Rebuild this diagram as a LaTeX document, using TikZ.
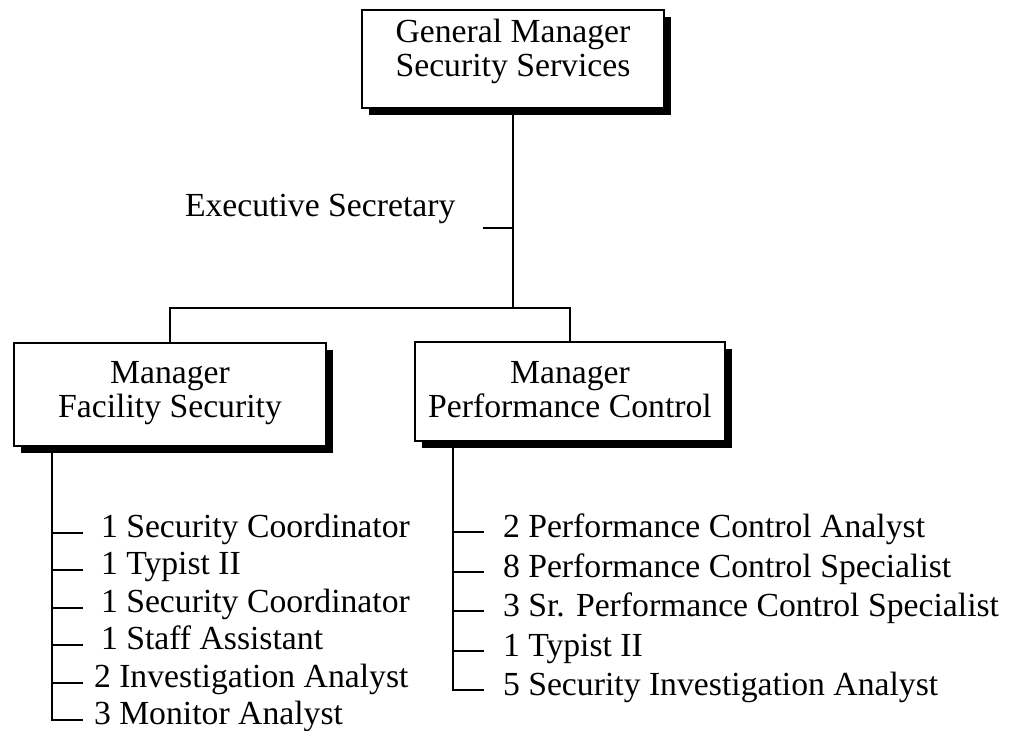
\documentclass[tikz,border=0pt]{standalone}
\usepackage{fontspec}
\setmainfont{Liberation Serif}
\usetikzlibrary{shadows}
\begin{document}
\begin{tikzpicture}[x=1pt,y=-1pt,
  every node/.style={inner sep=0pt, outer sep=0pt},
  txt/.style={font=\fontsize{33.7pt}{34pt}\selectfont},
  box/.style={draw, line width=2.6pt, fill=white,
    general shadow={fill=black, shadow xshift=7pt, shadow yshift=-7pt}},
  boxtext/.style={txt, align=center},
  conn/.style={line width=2.6pt},
  item/.style={txt, anchor=base west}]
\path[fill=white] (0,0) rectangle (1010,731);
\useasboundingbox (0,0) rectangle (1010,731);

% boxes
\node[box, minimum width=302pt, minimum height=98pt] (gm) at (513,59) {};
\node[boxtext] (gmt) at (513,51.5) {General Manager\\Security Services};
\node[box, minimum width=312pt, minimum height=103pt] (fs) at (170,394.5) {};
\node[boxtext] (fst) at (170,392.6) {Manager\\Facility Security};
\node[box, minimum width=310pt, minimum height=99pt] (pc) at (570,391.5) {};
\node[boxtext] (pct) at (570,389.3) {Manager\\Performance Control};

\node[txt, anchor=base west] (es) at (185,216) {Executive Secretary};

% main connectors
\coordinate (j) at (513,308);
\coordinate (est) at (483,228);
\draw[conn] (gm.south) -- (j);
\draw[conn] (est) -- (est -| j);
\draw[conn] (fs.north) |- (j) -| (pc.north);

% left list
\node[item] (l1) at (101,537) {1 Security Coordinator};
\node[item] (l2) at (101,574) {1 Typist II};
\node[item] (l3) at (101,612) {1 Security Coordinator};
\node[item] (l4) at (101,649) {1 Staff Assistant};
\node[item] (l5) at (94,687) {2 Investigation Analyst};
\node[item] (l6) at (94,724) {3 Monitor Analyst};
\coordinate (lv) at (52,446);
\coordinate (lt1) at (83,533);
\coordinate (lt2) at (83,570);
\coordinate (lt3) at (83,608);
\coordinate (lt4) at (83,645);
\coordinate (lt5) at (83,683);
\coordinate (lt6) at (83,720);
\draw[conn] (lv) |- (lt6);
\foreach \i in {1,...,5} \draw[conn] (lv |- lt\i) -- (lt\i);

% right list
\node[item] (r1) at (503,537) {2 Performance Control Analyst};
\node[item] (r2) at (503,577) {8 Performance Control Specialist};
\node[item] (r3) at (503,616) {3 Sr. Performance Control Specialist};
\node[item] (r4) at (503,656) {1 Typist II};
\node[item] (r5) at (503,695) {5 Security Investigation Analyst};
\coordinate (rv) at (453,441);
\coordinate (rt1) at (484,532);
\coordinate (rt2) at (484,572);
\coordinate (rt3) at (484,611);
\coordinate (rt4) at (484,651);
\coordinate (rt5) at (484,690);
\draw[conn] (rv) |- (rt5);
\foreach \i in {1,...,4} \draw[conn] (rv |- rt\i) -- (rt\i);
\end{tikzpicture}
\end{document}
